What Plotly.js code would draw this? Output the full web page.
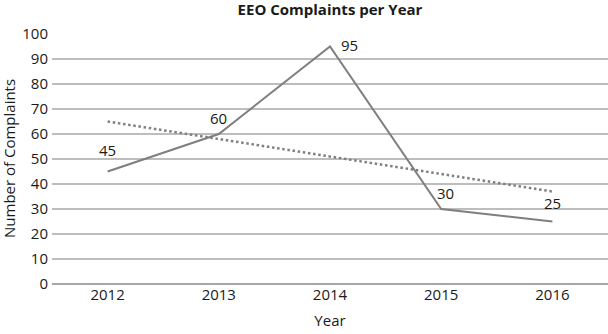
<!DOCTYPE html>
<html>
<head>
<meta charset="utf-8">
<script src="https://cdn.plot.ly/plotly-3.0.1.min.js"></script>
<style>
  html, body { margin: 0; padding: 0; background: #fff; }
  #chart { width: 608px; height: 334px; }
</style>
</head>
<body>
<div id="chart"></div>
<script>
// Complaints filed per year
const years = ['2012', '2013', '2014', '2015', '2016'];
const complaints = [45, 60, 95, 30, 25];

// Linear trend endpoints
const trendYears = ['2012', '2016'];
const trendValues = [65, 37];

// Data label offsets (px) relative to each point
const labelDx = [0, 0, 19, 4, 0];
const labelDy = [-22, -16, -2, -16, -19];

const FONT = 'Open Sans, sans-serif';
const GREY = '#7f7f7f';
const INK = '#1a1a1a';

const traces = [
  {
    x: years, y: complaints, type: 'scatter', mode: 'lines',
    line: { color: GREY, width: 2 },
    hoverinfo: 'x+y'
  },
  {
    x: trendYears, y: trendValues, type: 'scatter', mode: 'lines',
    line: { color: GREY, width: 2.5, dash: '2.5px,2.7px' },
    hoverinfo: 'skip'
  }
];

// Value labels next to each point (category axis -> serial index)
const annotations = years.map((yr, i) => ({
  x: i, y: complaints[i], xref: 'x', yref: 'y',
  text: String(complaints[i]), showarrow: false,
  xshift: labelDx[i], yshift: -labelDy[i],
  font: { family: FONT, size: 15, color: INK }
}));

annotations.push({
  text: 'Number of Complaints', xref: 'paper', yref: 'paper',
  x: 0, y: 0.5, xanchor: 'center', yanchor: 'middle',
  xshift: -43, textangle: -90, showarrow: false,
  font: { family: FONT, size: 15, color: INK }
});

const layout = {
  width: 608, height: 334,
  margin: { l: 52, r: 0, t: 34, b: 50 },
  paper_bgcolor: '#fff', plot_bgcolor: '#fff',
  showlegend: false,
  title: {
    text: '<b>EEO Complaints per Year</b>',
    xref: 'paper', yref: 'container',
    x: 0.5, xanchor: 'center',
    y: 1 - 10 / 334, yanchor: 'middle',
    font: { family: FONT, size: 15, color: INK }
  },
  xaxis: {
    type: 'category', range: [-0.5, 4.5],
    showgrid: false, zeroline: false, showline: false,
    ticks: '', tickfont: { family: FONT, size: 15, color: INK },
    title: { text: 'Year', font: { family: FONT, size: 15, color: INK }, standoff: 12 }
  },
  yaxis: {
    range: [0, 100], dtick: 10, tick0: 0,
    showgrid: true, gridcolor: '#bdbdbd', gridwidth: 1.3,
    zeroline: true, zerolinecolor: '#a6a6a6', zerolinewidth: 1.3,
    showline: false, ticks: '', ticklabelstandoff: 3,
    tickfont: { family: FONT, size: 15, color: INK }
  },
  annotations: annotations
};

Plotly.newPlot('chart', traces, layout, { displayModeBar: false, staticPlot: true });
</script>
</body>
</html>
